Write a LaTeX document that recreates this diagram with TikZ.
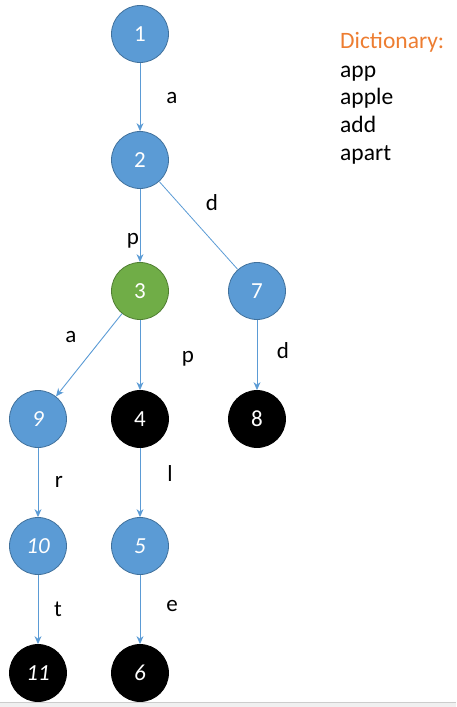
\documentclass[tikz,border=0pt]{standalone}
\usepackage{fontspec}
\setmainfont{Carlito}
\usetikzlibrary{arrows.meta}
\definecolor{nblue}{HTML}{5B9BD5}
\definecolor{nblueb}{HTML}{41719C}
\definecolor{ngreen}{HTML}{70AD47}
\definecolor{ngreenb}{HTML}{507E32}
\definecolor{dorange}{HTML}{ED7D31}
\tikzset{
  x=1pt,y=-1pt,
  tnode/.style={circle,minimum size=57pt,inner sep=0pt,text=white,font=\fontsize{23}{26}\selectfont,line width=0.8pt},
  bluen/.style={tnode,fill=nblue,draw=nblueb},
  greenn/.style={tnode,fill=ngreen,draw=ngreenb},
  blackn/.style={tnode,fill=black,draw=black},
  edge/.style={draw=nblue,line width=0.9pt,-{Stealth[length=8pt,width=7pt]}},
  plain/.style={draw=nblue,line width=0.8pt},
  lbl/.style={font=\fontsize{23}{26}\selectfont,text=black},
  dict/.style={font=\fontsize{23.5}{26}\selectfont,anchor=base west,inner sep=0pt}
}
\begin{document}
\begin{tikzpicture}
\useasboundingbox (0,0) rectangle (456,707);
\fill[gray!12] (0,702) rectangle (456,707);
\draw[gray!40,line width=0.8pt] (0,702) -- (456,702);
\node[bluen] (n1) at (140,34) {1};
\node[bluen] (n2) at (140,160) {2};
\node[greenn] (n3) at (140,291) {3};
\node[bluen] (n7) at (257,291) {7};
\node[bluen] (n9) at (38,419) {\itshape 9};
\node[blackn] (n4) at (140,419) {4};
\node[blackn] (n8) at (257,419) {8};
\node[bluen] (n10) at (38,546) {\itshape 10};
\node[bluen] (n5) at (140,546) {\itshape 5};
\node[blackn] (n11) at (38,673) {\itshape 11};
\node[blackn] (n6) at (140,673) {\itshape 6};
\draw[edge] (n1) -- (n2);
\draw[edge] (n2) -- (n3);
\draw[plain] (n2) -- (n7);
\draw[edge] (n3) -- (n9);
\draw[edge] (n3) -- (n4);
\draw[edge] (n7) -- (n8);
\draw[edge] (n9) -- (n10);
\draw[edge] (n4) -- (n5);
\draw[edge] (n10) -- (n11);
\draw[edge] (n5) -- (n6);
\node[lbl] (la) at (172,98) {a};
\node[lbl] (ld) at (212,203) {d};
\node[lbl] (lp) at (133,241) {p};
\node[lbl] (la2) at (71,337) {a};
\node[lbl] (lp2) at (188,359) {p};
\node[lbl] (ld2) at (283,351) {d};
\node[lbl] (lr) at (59,482) {r};
\node[lbl] (ll) at (170,474) {l};
\node[lbl] (lt) at (58,609) {t};
\node[lbl] (le) at (172,606) {e};
\node[dict,text=dorange] (d0) at (340,48) {Dictionary:};
\node[dict] (d1) at (340,77) {app};
\node[dict] (d2) at (340,104) {apple};
\node[dict] (d3) at (340,132) {add};
\node[dict] (d4) at (340,160) {apart};
\end{tikzpicture}
\end{document}
